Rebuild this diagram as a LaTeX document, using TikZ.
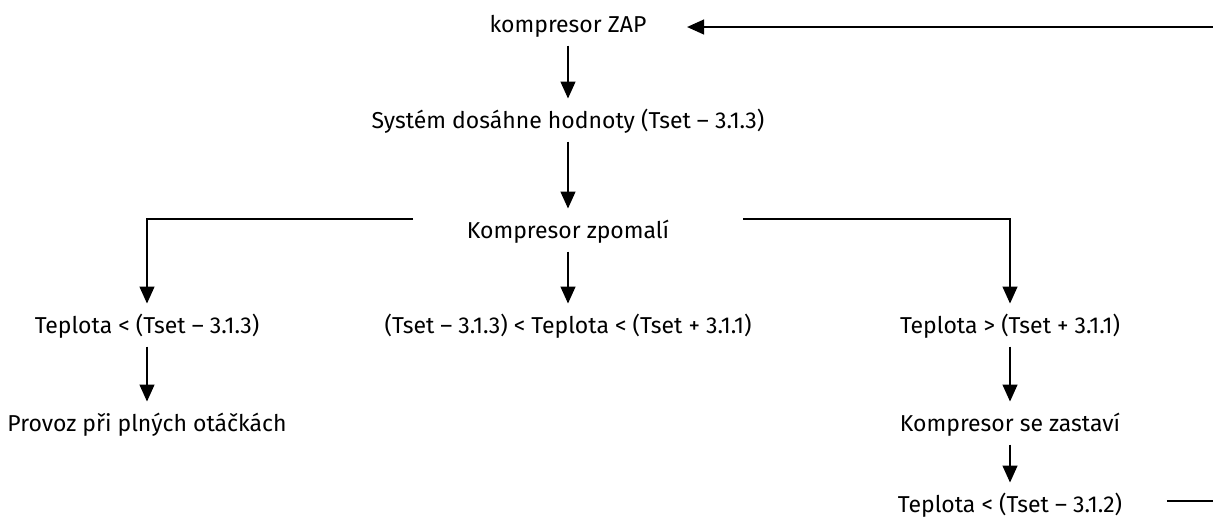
\documentclass[tikz,border=0pt]{standalone}
\usepackage{fontspec}
\setmainfont{Fira Sans}
\usetikzlibrary{positioning, arrows.meta}

\begin{document}
\begin{tikzpicture}[->,
					>={Triangle[length=8.5pt, width=7.5pt]},
					line width=0.7pt,
					x=0.5pt, y=-0.5pt,
					every node/.style={anchor=base, font=\fontsize{11.5}{14}\selectfont,
						text height=7.9pt, text depth=0pt, inner xsep=2pt, inner ysep=6.5pt}]

	\useasboundingbox (0,0) rectangle (1213,527);

	\node (zap) at (568,32)  {kompresor ZAP};
	\node (sys) at (568,128)  {Systém dosáhne hodnoty (Tset – 3.1.3)};
	\node (slow) at (568,238)  {Kompresor zpomalí};
	\node (tlow) at (147,333)  {Teplota < (Tset – 3.1.3)};
	\node (tmid) at (568,333)  {(Tset – 3.1.3) < Teplota < (Tset + 3.1.1)};
	\node (thigh) at (1010,333)  {Teplota > (Tset + 3.1.1)};
	\node (full) at (147,431)  {Provoz při plných otáčkách};
	\node (stop) at (1010,431)  {Kompresor se zastaví};
	\node (tstop) at (1010,512)  {Teplota < (Tset – 3.1.2)};

	\coordinate (lfork) at (413,219);
	\coordinate (rfork) at (743,219);
	\coordinate (back) at (1213,27);
	\coordinate (out) at (1213,501);

	\draw	(zap) edge (sys)
			(sys) edge (slow)
			(slow) edge (tmid)
			(tlow) edge (full)
			(thigh) edge (stop)
			(stop) edge (tstop)
;
	\draw (lfork) -| (tlow);
	\draw (rfork) -| (thigh);

\draw[shorten >=18pt] (back) -- (zap.east |- back);
\draw[-, shorten <=20pt] (tstop.east |- out) -- (out);
\end{tikzpicture}
\end{document}
